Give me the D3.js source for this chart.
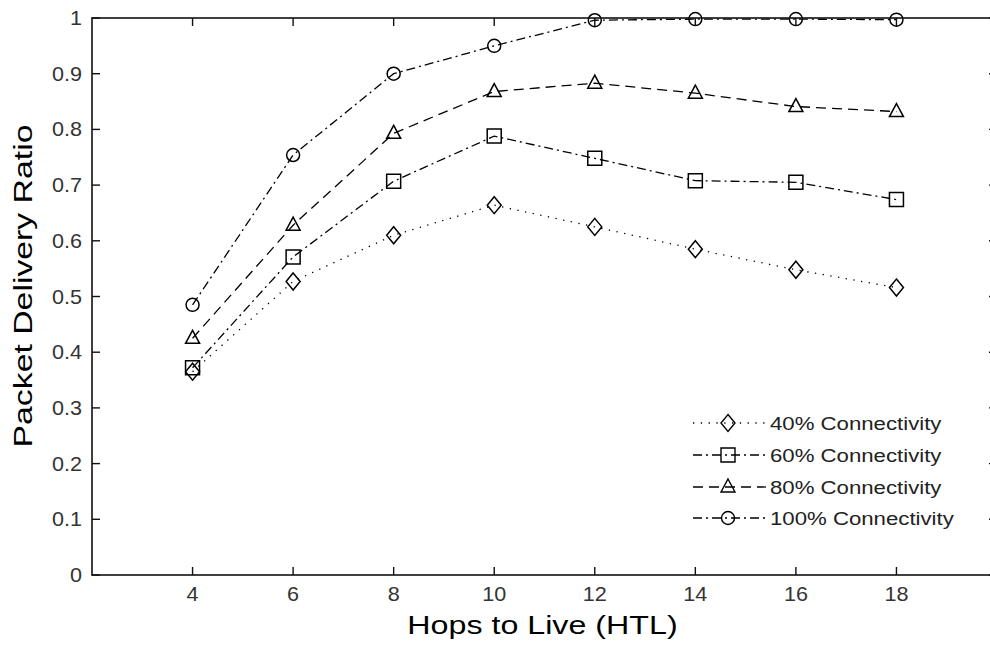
<!DOCTYPE html>
<html>
<head>
<meta charset="utf-8">
<title>Packet Delivery Ratio vs HTL</title>
<script src="https://d3js.org/d3.v7.min.js"></script>
<style>
  body { margin: 0; background: #fff; }
  svg { display: block; font-family: Arial, "Liberation Sans", sans-serif; }
</style>
</head>
<body>
<div id="chart"></div>
<script>
// data
var htl = [4, 6, 8, 10, 12, 14, 16, 18];
var conn40  = [0.365, 0.527, 0.610, 0.664, 0.625, 0.585, 0.548, 0.516];
var conn60  = [0.372, 0.571, 0.707, 0.788, 0.748, 0.708, 0.705, 0.674];
var conn80  = [0.425, 0.628, 0.793, 0.868, 0.883, 0.865, 0.841, 0.832];
var conn100 = [0.485, 0.754, 0.900, 0.950, 0.996, 0.998, 0.998, 0.997];
var seriesNames = ["40% Connectivity", "60% Connectivity", "80% Connectivity", "100% Connectivity"];
var xTicks = [4, 6, 8, 10, 12, 14, 16, 18];
var yTicks = [0, 0.1, 0.2, 0.3, 0.4, 0.5, 0.6, 0.7, 0.8, 0.9, 1];

var width = 990, height = 645;
// plot box (right edge falls just outside the picture, like the original)
var box = {left: 92, right: 997, top: 18, bottom: 575};

var svg = d3.select("#chart").append("svg")
  .attr("width", width)
  .attr("height", height);

var x = d3.scaleLinear().domain([2, 20]).range([box.left, box.right]);
var y = d3.scaleLinear().domain([0, 1]).range([box.bottom, box.top]);

// series styles, matlab-ish
var styles = [
  {dash: "1.3,6.5", marker: "diamond"},
  {dash: "9,4,2,4", marker: "square"},
  {dash: "10,6", marker: "triangle"},
  {dash: "9,4,2,4", marker: "circle"}
];

var allSeries = [conn40, conn60, conn80, conn100].map(function(vals, i) {
  return {
    name: seriesNames[i],
    style: styles[i],
    values: vals.map(function(v, j) { return {htl: htl[j], pdr: v}; })
  };
});

function markerPath(type) {
  if (type == "diamond") return "M0,-8.5L7,0L0,8.5L-7,0Z";
  if (type == "square") return "M-7,-7H7V7H-7Z";
  if (type == "triangle") return "M0,-8L7,5H-7Z";
  return d3.arc()({innerRadius: 0, outerRadius: 6.5, startAngle: 0, endAngle: 2 * Math.PI});
}

var axisColor = "#111";
var tickLen = 8;

var line = d3.line()
  .x(function(d) { return x(d.htl); })
  .y(function(d) { return y(d.pdr); });

var plot = svg.append("g");

plot.selectAll("path.series")
  .data(allSeries)
  .enter()
  .append("path")
    .attr("class", "series")
    .attr("d", function(d) { return line(d.values); })
    .attr("fill", "none")
    .attr("stroke", "#000")
    .attr("stroke-width", 1.3)
    .attr("stroke-dasharray", function(d) { return d.style.dash; });

plot.selectAll("g.marks")
  .data(allSeries)
  .enter()
  .append("g")
    .attr("class", "marks")
  .selectAll("path")
  .data(function(d) { return d.values.map(function(v) { return {v: v, m: d.style.marker}; }); })
  .enter()
  .append("path")
    .attr("transform", function(d) { return "translate(" + x(d.v.htl) + "," + y(d.v.pdr) + ")"; })
    .attr("d", function(d) { return markerPath(d.m); })
    .attr("fill", "none")
    .attr("stroke", "#000")
    .attr("stroke-width", 1.5);

// axes box with inward ticks
var frame = svg.append("g");
frame.append("rect")
  .attr("x", box.left).attr("y", box.top)
  .attr("width", box.right - box.left).attr("height", box.bottom - box.top)
  .attr("fill", "none")
  .attr("stroke", axisColor)
  .attr("stroke-width", 1.6);

// x ticks (bottom and top)
xTicks.forEach(function(t) {
  frame.append("line").attr("x1", x(t)).attr("x2", x(t))
    .attr("y1", box.bottom).attr("y2", box.bottom - tickLen)
    .attr("stroke", axisColor).attr("stroke-width", 1.4);
  frame.append("line").attr("x1", x(t)).attr("x2", x(t))
    .attr("y1", box.top).attr("y2", box.top + tickLen)
    .attr("stroke", axisColor).attr("stroke-width", 1.4);
});
// y ticks (left and right)
yTicks.forEach(function(t) {
  frame.append("line").attr("x1", box.left).attr("x2", box.left + tickLen)
    .attr("y1", y(t)).attr("y2", y(t))
    .attr("stroke", axisColor).attr("stroke-width", 1.4);
  frame.append("line").attr("x1", box.right).attr("x2", box.right - tickLen)
    .attr("y1", y(t)).attr("y2", y(t))
    .attr("stroke", axisColor).attr("stroke-width", 1.4);
});

// tick labels (glyphs a bit wide in the original)
svg.selectAll("text.xtick")
  .data(xTicks)
  .enter()
  .append("text")
    .attr("class", "xtick")
    .attr("transform", function(d) { return "translate(" + x(d) + "," + (box.bottom + 26) + ") scale(1.08,1)"; })
    .attr("text-anchor", "middle")
    .attr("font-size", 20)
    .attr("fill", "#333")
    .text(function(d) { return d; });

svg.selectAll("text.ytick")
  .data(yTicks)
  .enter()
  .append("text")
    .attr("class", "ytick")
    .attr("transform", function(d) { return "translate(" + (box.left - 10) + "," + (y(d) + 7) + ") scale(1.08,1)"; })
    .attr("text-anchor", "end")
    .attr("font-size", 20)
    .attr("fill", "#333")
    .text(function(d) { return d3.format("~g")(d); });

// axis titles
svg.append("text")
  .attr("transform", "translate(" + ((box.left + box.right) / 2 - 2) + ",634) scale(1.24,1)")
  .attr("text-anchor", "middle")
  .attr("font-size", 26)
  .attr("fill", "#000")
  .text("Hops to Live (HTL)");

svg.append("text")
  .attr("transform", "translate(32,286) rotate(-90) scale(1.3,1)")
  .attr("text-anchor", "middle")
  .attr("font-size", 26)
  .attr("fill", "#000")
  .text("Packet Delivery Ratio");

// legend
var legend = svg.append("g");
var legY = [423, 455, 487, 518];
allSeries.forEach(function(s, i) {
  var g = legend.append("g").attr("transform", "translate(0," + legY[i] + ")");
  g.append("line")
    .attr("x1", 693).attr("x2", 766)
    .attr("y1", 0).attr("y2", 0)
    .attr("stroke", "#000")
    .attr("stroke-width", 1.3)
    .attr("stroke-dasharray", s.style.dash);
  g.append("path")
    .attr("transform", "translate(728,0)")
    .attr("d", markerPath(s.style.marker))
    .attr("fill", "none")
    .attr("stroke", "#000")
    .attr("stroke-width", 1.4);
  g.append("text")
    .attr("transform", "translate(770,7) scale(1.2,1)")
    .attr("font-size", 18.5)
    .attr("fill", "#222")
    .text(s.name);
});
</script>
</body>
</html>
